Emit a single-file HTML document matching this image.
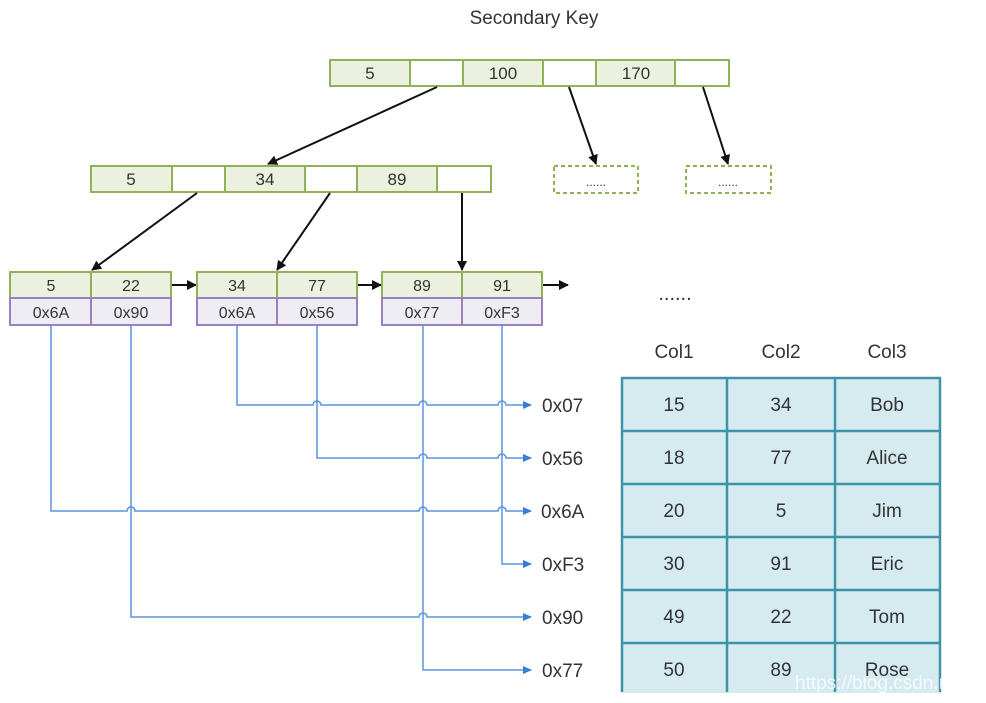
<!DOCTYPE html>
<html><head><meta charset="utf-8"><style>
html,body{margin:0;padding:0;background:#fff;}
svg{display:block;}
text{font-family:"Liberation Sans","DejaVu Sans",sans-serif;fill:#333;}
</style></head><body>
<svg width="986" height="703" viewBox="0 0 986 703" xmlns="http://www.w3.org/2000/svg">
<defs>
<marker id="ab" markerWidth="10" markerHeight="10" refX="9" refY="5" orient="auto" markerUnits="userSpaceOnUse"><path d="M0,0 L10,5 L0,10 z" fill="#111"/></marker>
<marker id="bl" markerWidth="9" markerHeight="8" refX="8" refY="4" orient="auto" markerUnits="userSpaceOnUse"><path d="M0,0 L9,4 L0,8 z" fill="#3a7bd5"/></marker>
</defs>
<text x="534" y="24" font-size="19" text-anchor="middle">Secondary Key</text>

<!-- top node -->
<g stroke="#8db356" stroke-width="2">
<rect x="330" y="60" width="80" height="26" fill="#ebf1de"/>
<rect x="410" y="60" width="53" height="26" fill="#fff"/>
<rect x="463" y="60" width="80" height="26" fill="#ebf1de"/>
<rect x="543" y="60" width="53" height="26" fill="#fff"/>
<rect x="596" y="60" width="79" height="26" fill="#ebf1de"/>
<rect x="675" y="60" width="54" height="26" fill="#fff"/>
</g>
<g font-size="17" text-anchor="middle">
<text x="370" y="79">5</text><text x="503" y="79">100</text><text x="636" y="79">170</text>
</g>

<!-- level 2 -->
<g stroke="#8db356" stroke-width="2">
<rect x="91" y="166" width="81" height="26" fill="#ebf1de"/>
<rect x="172" y="166" width="53" height="26" fill="#fff"/>
<rect x="225" y="166" width="80" height="26" fill="#ebf1de"/>
<rect x="305" y="166" width="52" height="26" fill="#fff"/>
<rect x="357" y="166" width="80" height="26" fill="#ebf1de"/>
<rect x="437" y="166" width="54" height="26" fill="#fff"/>
</g>
<g font-size="17" text-anchor="middle">
<text x="131" y="185">5</text><text x="265" y="185">34</text><text x="397" y="185">89</text>
</g>
<g stroke="#8db356" stroke-width="2" stroke-dasharray="4,3" fill="#fff">
<rect x="554" y="166" width="84" height="27"/>
<rect x="686" y="166" width="85" height="27"/>
</g>
<text x="596" y="186" font-size="12" text-anchor="middle">......</text>
<text x="728" y="186" font-size="12" text-anchor="middle">......</text>

<!-- black arrows -->
<g stroke="#111" stroke-width="2" marker-end="url(#ab)">
<line x1="437" y1="87" x2="268" y2="164"/>
<line x1="569" y1="87" x2="596" y2="164"/>
<line x1="703" y1="87" x2="728" y2="164"/>
<line x1="197" y1="193" x2="92" y2="270"/>
<line x1="330" y1="193" x2="277" y2="270"/>
<line x1="462" y1="193" x2="462" y2="270"/>
<line x1="171" y1="285" x2="196" y2="285"/>
<line x1="357" y1="285" x2="381" y2="285"/>
<line x1="542" y1="285" x2="568" y2="285"/>
</g>

<!-- leaves -->
<g stroke-width="2">
<g stroke="#8db356" fill="#ebf1de">
<rect x="10" y="272" width="81" height="26"/><rect x="91" y="272" width="80" height="26"/>
<rect x="197" y="272" width="80" height="26"/><rect x="277" y="272" width="80" height="26"/>
<rect x="382" y="272" width="80" height="26"/><rect x="462" y="272" width="80" height="26"/>
</g>
<g stroke="#9b7fbf" fill="#efedf4">
<rect x="10" y="298" width="81" height="27"/><rect x="91" y="298" width="80" height="27"/>
<rect x="197" y="298" width="80" height="27"/><rect x="277" y="298" width="80" height="27"/>
<rect x="382" y="298" width="80" height="27"/><rect x="462" y="298" width="80" height="27"/>
</g>
</g>
<g font-size="16" text-anchor="middle">
<text x="51" y="291">5</text><text x="131" y="291">22</text>
<text x="237" y="291">34</text><text x="317" y="291">77</text>
<text x="422" y="291">89</text><text x="502" y="291">91</text>
<text x="51" y="318">0x6A</text><text x="131" y="318">0x90</text>
<text x="237" y="318">0x6A</text><text x="317" y="318">0x56</text>
<text x="422" y="318">0x77</text><text x="502" y="318">0xF3</text>
</g>
<text x="675" y="300" font-size="20" text-anchor="middle">......</text>

<!-- blue connectors -->
<g stroke="#5b93dd" stroke-width="1.5" fill="none" marker-end="url(#bl)">
<path d="M237,325 V405 H313 A4,4 0 0 1 321,405 H419 A4,4 0 0 1 427,405 H498 A4,4 0 0 1 506,405 H531"/>
<path d="M317,325 V458 H419 A4,4 0 0 1 427,458 H498 A4,4 0 0 1 506,458 H531"/>
<path d="M51,325 V511 H127 A4,4 0 0 1 135,511 H419 A4,4 0 0 1 427,511 H498 A4,4 0 0 1 506,511 H531"/>
<path d="M502,325 V564 H531"/>
<path d="M131,325 V617 H419 A4,4 0 0 1 427,617 H531"/>
<path d="M423,325 V670 H531"/>
</g>
<g font-size="19">
<text x="542" y="412">0x07</text><text x="542" y="465">0x56</text>
<text x="541" y="518">0x6A</text><text x="542" y="571">0xF3</text>
<text x="542" y="624">0x90</text><text x="542" y="677">0x77</text>
</g>

<!-- table -->
<g font-size="19" text-anchor="middle">
<text x="674" y="358">Col1</text><text x="781" y="358">Col2</text><text x="887" y="358">Col3</text>
</g>
<rect x="621" y="378" width="320" height="315" fill="#d5ebf0"/>
<g stroke="#3e93a8" stroke-width="2.5">
<line x1="621" y1="378" x2="941" y2="378"/>
<line x1="621" y1="431" x2="941" y2="431"/>
<line x1="621" y1="484" x2="941" y2="484"/>
<line x1="621" y1="537" x2="941" y2="537"/>
<line x1="621" y1="590" x2="941" y2="590"/>
<line x1="621" y1="643" x2="941" y2="643"/>
<line x1="622" y1="378" x2="622" y2="692"/>
<line x1="727" y1="378" x2="727" y2="692"/>
<line x1="835" y1="378" x2="835" y2="692"/>
<line x1="940" y1="378" x2="940" y2="692"/>
</g>
<g font-size="19" text-anchor="middle">
<text x="674" y="411">15</text><text x="781" y="411">34</text><text x="887" y="411">Bob</text>
<text x="674" y="464">18</text><text x="781" y="464">77</text><text x="887" y="464">Alice</text>
<text x="674" y="517">20</text><text x="781" y="517">5</text><text x="887" y="517">Jim</text>
<text x="674" y="570">30</text><text x="781" y="570">91</text><text x="887" y="570">Eric</text>
<text x="674" y="623">49</text><text x="781" y="623">22</text><text x="887" y="623">Tom</text>
<text x="674" y="676">50</text><text x="781" y="676">89</text><text x="887" y="676">Rose</text>
</g>
<text x="795" y="689" font-size="19" fill="#fff" style="fill:#ffffff;opacity:0.75">https://blog.csdn.ne</text>
</svg>
</body></html>
